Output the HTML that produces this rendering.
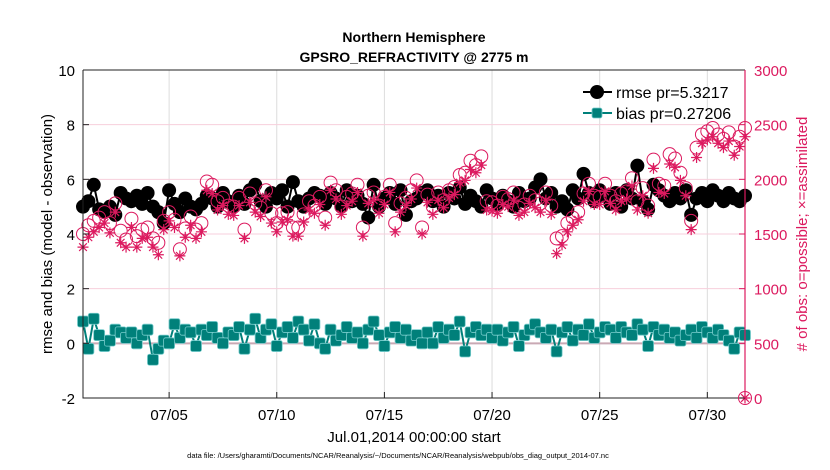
<!DOCTYPE html>
<html><head><meta charset="utf-8"><style>
html,body{margin:0;padding:0;background:#fff;}
svg{display:block;font-family:"Liberation Sans",sans-serif;}
</style></head><body>
<svg id="chart" width="830" height="470" viewBox="0 0 830 470" xmlns="http://www.w3.org/2000/svg">
<text x="414" y="42" font-size="14" font-weight="bold" text-anchor="middle">Northern Hemisphere</text>
<text x="414" y="62" font-size="14" font-weight="bold" text-anchor="middle">GPSRO_REFRACTIVITY @ 2775 m</text>
<g id="grid"></g>
<g id="series"></g>
<g id="axes"></g>
<text transform="translate(52,234) rotate(-90)" font-size="15" text-anchor="middle">rmse and bias (model - observation)</text>
<text transform="translate(807,234) rotate(-90)" font-size="15" text-anchor="middle" fill="#dc1a5f">#  of obs: o=possible; ×=assimilated</text>
<text x="414" y="442" font-size="15" text-anchor="middle">Jul.01,2014 00:00:00 start</text>
<text x="398" y="458" font-size="7.5" text-anchor="middle">data file: /Users/gharamti/Documents/NCAR/Reanalysis/~/Documents/NCAR/Reanalysis/webpub/obs_diag_output_2014-07.nc</text>
<g>
<line x1="583" y1="92" x2="612" y2="92" stroke="#000" stroke-width="2"/>
<circle cx="597" cy="92" r="7" fill="#000"/>
<text x="616" y="98" font-size="16">rmse pr=5.3217</text>
<line x1="583" y1="113" x2="612" y2="113" stroke="#00807a" stroke-width="2"/>
<rect x="592" y="108" width="10" height="10" rx="2" fill="#00807a" stroke="#7cc" stroke-width="0.8"/>
<text x="616" y="119" font-size="16">bias pr=0.27206</text>
</g>
</svg>
<script>
const rmse=[5.0,5.2,5.8,4.9, 4.8,5.0,4.7,5.5, 5.3,5.2,5.4,5.1, 5.5,5.0,4.8,4.4, 5.6,5.1,4.8,5.3, 5.0,4.9,5.1,5.4, 5.3,5.0,5.5,5.2, 5.0,5.4,5.1,5.6, 5.8,5.2,5.0,5.5, 5.3,5.6,5.0,5.9, 5.2,5.0,5.3,5.5, 5.4,5.1,5.5,5.3, 5.0,5.6,5.2,5.4, 5.1,4.6,5.8,5.0, 5.3,5.5,5.1,5.6, 4.7,5.2,5.3,5.5, 5.6,5.2,5.4,5.0, 5.5,5.3,5.7,5.1, 5.4,5.2,5.0,5.6, 5.3,5.1,5.4,5.2, 5.0,5.5,5.2,5.3, 5.7,6.0,5.3,5.5, 5.0,5.2,4.9,5.6, 5.3,6.2,5.5,5.2, 5.6,5.4,5.1,5.5, 5.0,5.6,5.3,6.5, 5.2,4.9,5.8,5.6, 5.4,5.2,5.5,5.3, 5.6,4.7,5.3,5.5, 5.2,5.6,5.4,5.2, 5.5,5.3,5.2,5.4];
const bias=[0.8,-0.2,0.9,0.3, -0.1,0.1,0.5,0.4, 0.2,0.4,0.0,0.3, 0.5,-0.6,-0.2,0.1, 0.0,0.7,0.2,0.5, 0.4,-0.1,0.5,0.3, 0.6,0.2,0.0,0.4, 0.3,0.6,-0.2,0.5, 0.9,0.2,0.5,0.7, -0.1,0.4,0.6,0.2, 0.8,0.5,0.1,0.7, 0.0,-0.2,0.5,0.1, 0.3,0.6,0.2,0.4, 0.0,0.5,0.8,0.3, -0.1,0.4,0.6,0.2, 0.5,0.1,0.3,0.0, 0.4,0.0,0.6,0.2, 0.5,0.3,0.8,-0.3, 0.4,0.6,0.3,0.5, 0.2,0.5,0.1,0.4, 0.6,-0.1,0.3,0.5, 0.7,0.4,0.2,0.5, -0.3,0.4,0.6,0.1, 0.5,0.3,0.7,0.2, 0.4,0.6,0.5,0.2, 0.6,0.4,0.3,0.7, 0.5,-0.1,0.6,0.3, 0.5,0.2,0.4,0.1, 0.3,0.5,0.2,0.6, 0.4,0.2,0.5,0.3, 0.1,-0.2,0.4,0.3];
const possible=[1500,1580,1620,1650, 1700,1600,1780,1530, 1450,1640,1480,1540, 1560,1460,1420,1620, 1700,1630,1360,1550, 1660,1540,1600,1980, 1950,1800,1830,1760, 1750,1830,1540,1870, 1780,1740,1900,1690, 1600,1690,1700,1560, 1560,1680,1800,1760, 1840,1650,1970,1900, 1750,1840,1870,1950, 1560,1850,1880,1760, 1840,1950,1600,1780, 1830,1900,1990,1560, 1860,1750,1880,1810, 1900,1930,2040,2060, 2170,2130,2210,1800, 1790,1760,1840,1820, 1880,1740,1770,1850, 1810,1780,1880,1760, 1460,1480,1600,1650, 1700,1870,1960,1850, 1840,1960,1850,1800, 1870,1890,2010,1800, 1920,1760,2180,1960, 1940,2230,2190,2060, 1920,1620,2290,2410, 2440,2470,2410,2370, 2430,2300,2390,2470];
const assimilated=[1380,1470,1520,1560, 1600,1510,1700,1420, 1380,1560,1380,1460, 1470,1380,1310,1540, 1620,1560,1300,1470, 1580,1460,1520,1900, 1870,1720,1760,1680, 1670,1760,1460,1790, 1700,1660,1840,1600, 1520,1610,1630,1480, 1480,1610,1720,1690, 1770,1580,1900,1820, 1680,1760,1800,1880, 1480,1780,1810,1690, 1770,1880,1520,1700, 1760,1820,1920,1500, 1790,1680,1810,1740, 1830,1860,1970,1990, 2090,2060,2130,1720, 1710,1690,1770,1750, 1810,1670,1700,1780, 1740,1700,1810,1680, 1320,1400,1520,1580, 1630,1800,1890,1770, 1770,1890,1780,1720, 1800,1820,1940,1720, 1850,1690,2100,1880, 1870,2140,2110,1990, 1850,1540,2200,2330, 2360,2390,2330,2290, 2350,2220,2300,2390];
const xTickDays=[4,9,14,19,24,29];
const xTickLabels=["07/05","07/10","07/15","07/20","07/25","07/30"];
const yTicks=[-2,0,2,4,6,8,10];
const y2Ticks=[0,500,1000,1500,2000,2500,3000];

const NS="http://www.w3.org/2000/svg";
const L=83,R=745,T=70,B=398,DMAX=30.75;
const xs=d=>L+d/DMAX*(R-L);
const ys=v=>B-(v+2)/12*(B-T);
const ys2=v=>B-v/3000*(B-T);
function mk(tag,attrs,parent){const e=document.createElementNS(NS,tag);for(const k in attrs)e.setAttribute(k,attrs[k]);parent.appendChild(e);return e;}
const grid=document.getElementById('grid'),axes=document.getElementById('axes'),ser=document.getElementById('series');
const PINK="#dc1a5f",TEAL="#00807a";

xTickDays.forEach((d,i)=>{
  const g=mk('line',{x1:xs(d),x2:xs(d),y1:T,y2:B,stroke:'#dcdcdc','stroke-width':1},grid);
  
  
  const tk=mk('line',{x1:xs(d),x2:xs(d),y1:B,y2:B-6,stroke:'#222'},axes);
  
  
  const t=mk('text',{x:xs(d),y:B+22,'font-size':15,'text-anchor':'middle'},axes);
  t.textContent=xTickLabels[i];
  
  
});
y2Ticks.forEach(v=>{
  if(v>0&&v<3000){
    const g=mk('line',{x1:L,x2:R,y1:ys2(v),y2:ys2(v),stroke:'#f7cfdc','stroke-width':1},grid);
    
    
  }
  const tk=mk('line',{x1:R-6,x2:R,y1:ys2(v),y2:ys2(v),stroke:PINK},axes);
  
  
  const t=mk('text',{x:R+9,y:ys2(v)+6,'font-size':15,fill:PINK},axes);
  t.textContent=v;
  
  
});
yTicks.forEach(v=>{
  const tk=mk('line',{x1:L,x2:L+6,y1:ys(v),y2:ys(v),stroke:'#222'},axes);
  
  
  const t=mk('text',{x:L-8,y:ys(v)+6,'font-size':15,'text-anchor':'end'},axes);
  t.textContent=v;
  
  
});
const zl=mk('line',{x1:L,x2:R,y1:ys(0),y2:ys(0),stroke:'#c9a9b4','stroke-width':2},grid);



function lineSeries(vals,color,name){
  const p=mk('polyline',{points:vals.map((v,i)=>xs(i*0.25)+','+ys(v)).join(' '),fill:'none',stroke:color,'stroke-width':2},ser);
  
  
}
lineSeries(rmse,'#000','rmse-line');
rmse.forEach((v,i)=>{
  const c=mk('circle',{cx:xs(i*0.25),cy:ys(v),r:7,fill:'#000'},ser);
  
  
});
lineSeries(bias,TEAL,'bias-line');
bias.forEach((v,i)=>{
  const r=mk('rect',{x:xs(i*0.25)-5.5,y:ys(v)-5.5,width:11,height:11,rx:2,fill:TEAL,stroke:'#7cc','stroke-width':0.8},ser);
  
  
});
possible.forEach((v,i)=>{
  const c=mk('circle',{cx:xs(i*0.25),cy:ys2(v),r:6.5,fill:'none',stroke:PINK,'stroke-width':1},ser);
  
  
});
function star(x,y,name){
  const s=5.5,d=s*0.7;
  const p=mk('path',{d:`M${x-s},${y}H${x+s}M${x},${y-s}V${y+s}M${x-d},${y-d}L${x+d},${y+d}M${x-d},${y+d}L${x+d},${y-d}`,stroke:PINK,'stroke-width':1.2,fill:'none'},ser);
  
  
}
assimilated.forEach((v,i)=>star(xs(i*0.25),ys2(v),'assimilated-obs-point'));

const frame=mk('path',{d:`M${L},${T}H${R}M${L},${T}V${B}H${R}`,fill:'none',stroke:'#222','stroke-width':1},axes);


const ra=mk('line',{x1:R,x2:R,y1:T,y2:B,stroke:PINK,'stroke-width':1.2},axes);


const zc=mk('circle',{cx:R,cy:B,r:6.5,fill:'none',stroke:PINK},axes);


star(R,B,'zero-count-star');
</script>
</body></html>
